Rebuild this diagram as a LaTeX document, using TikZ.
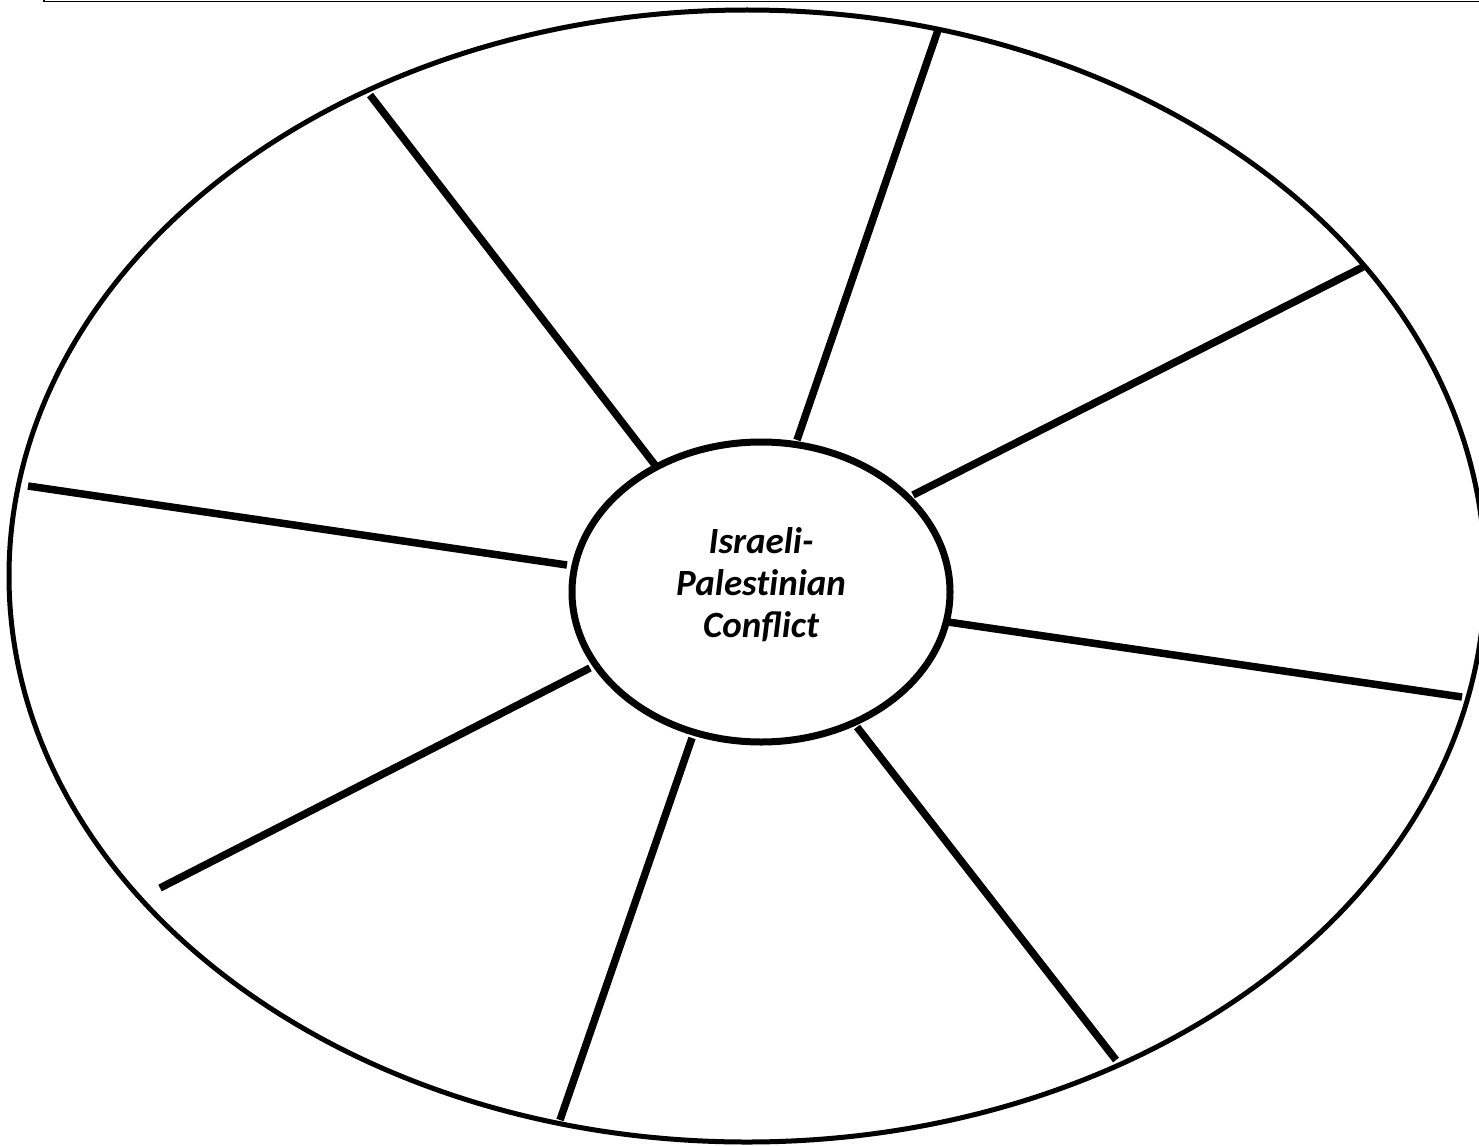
\documentclass[tikz,border=0pt]{standalone}
\usepackage{fontspec}
\setmainfont{Carlito}
\usetikzlibrary{shapes.geometric}
\begin{document}
\begin{tikzpicture}[x=1pt,y=-1pt,
  spoke/.style={line width=7.5pt},
  outerring/.style={line width=5pt},
  hub/.style={ellipse, draw, line width=7pt, fill=white, minimum width=378pt, minimum height=300pt, inner sep=0pt},
  hubtext/.style={align=center, inner sep=0pt, font=\fontsize{37}{42}\selectfont\bfseries\itshape},
  frameline/.style={line width=1.8pt}]
\useasboundingbox (0,0) rectangle (1479,1145);
\begin{scope}
\clip (0,0) rectangle (1479,1145);
\draw[frameline] (44,-2) -- (44,1.5) -- (1490,1.5);
\draw[outerring] (747,576) ellipse [x radius=738, y radius=566];
% outer ends
\coordinate (o1) at (370,95);
\coordinate (o2) at (938,30);
\coordinate (o3) at (1363,267);
\coordinate (o4) at (1462,697);
\coordinate (o5) at (1116,1060);
\coordinate (o6) at (560,1120);
\coordinate (o7) at (160,888);
\coordinate (o8) at (28,486);
% inner ends
\coordinate (i1) at (655,465);
\coordinate (i2) at (797,440);
\coordinate (i3) at (913,495);
\coordinate (i4) at (948,622);
\coordinate (i5) at (857,727);
\coordinate (i6) at (692,738);
\coordinate (i7) at (590,668);
\coordinate (i8) at (567,565);
\foreach \k in {1,...,8} {\draw[spoke] (o\k) -- (i\k);}
\node[hub] (hub) at (761,592) {};
\node[hubtext] (title) at ([yshift=7pt]hub.center) {Israeli-\\Palest\kern0pt inian\\Conflict};
\end{scope}
\end{tikzpicture}
\end{document}
